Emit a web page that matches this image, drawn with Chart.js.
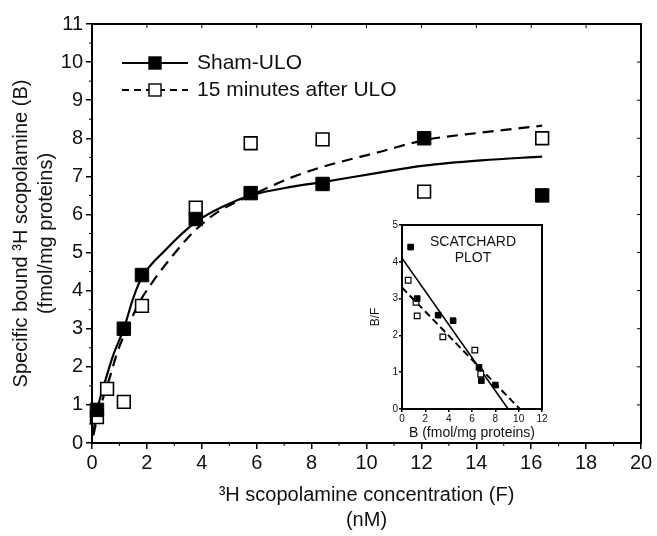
<!DOCTYPE html>
<html>
<head>
<meta charset="utf-8">
<script src="https://cdn.jsdelivr.net/npm/chart.js@4.4.1/dist/chart.umd.min.js"></script>
<style>
    html, body { margin: 0; padding: 0; background: #fff; }
    #wrap { position: relative; width: 657px; height: 536px; }
    #main { position: absolute; left: 0; top: 0; }
    #inset { position: absolute; left: 368px; top: 215px; }
</style>
</head>
<body>
<div id="wrap">
    <canvas id="main" width="657" height="536"></canvas>
    <canvas id="inset" width="185" height="230"></canvas>
</div>
<script>
// ---- saturation curve data ----
const shamConc  = [0.18, 1.16, 1.82, 3.78, 5.78, 8.4, 12.1, 16.4];
const shamBound = [0.87, 3.0, 4.41, 5.88, 6.56, 6.8, 8.0, 6.5];

const uloConc  = [0.18, 0.55, 1.16, 1.82, 3.78, 5.78, 8.4, 12.1, 16.4];
const uloBound = [0.68, 1.42, 1.08, 3.6, 6.18, 7.87, 7.97, 6.6, 8.0];

// fitted curves, traced point by point
const shamFitX = [0.03, 0.2, 0.47, 0.77, 1.16, 1.5, 1.82, 2.65, 3.78, 4.9, 5.78, 7.3, 8.4, 10.47, 12.1, 14.2, 16.4];
const shamFitY = [0.2, 0.9, 1.6, 2.3, 3.0, 3.8, 4.35, 5.05, 5.8, 6.25, 6.5, 6.73, 6.85, 7.1, 7.28, 7.42, 7.52];

const uloFitX = [0.05, 0.2, 0.65, 0.95, 1.31, 1.67, 2.18, 3.02, 3.78, 4.55, 6.1, 7.3, 8.4, 10.47, 12.1, 14.2, 16.4];
const uloFitY = [0.2, 0.68, 1.73, 2.44, 3.04, 3.62, 4.2, 4.99, 5.6, 6.05, 6.6, 6.98, 7.25, 7.64, 7.95, 8.15, 8.33];

const xTicks = [0, 2, 4, 6, 8, 10, 12, 14, 16, 18, 20];
const yTicks = [0, 1, 2, 3, 4, 5, 6, 7, 8, 9, 10, 11];

// ---- Scatchard inset data ----
const scShamB  = [0.74, 1.3, 3.1, 4.38, 6.6, 6.8, 8.0];
const scShamBF = [4.4, 3.0, 2.55, 2.4, 1.13, 0.77, 0.65];

const scUloB  = [0.53, 1.2, 1.3, 3.5, 6.24, 6.75];
const scUloBF = [3.5, 2.9, 2.53, 1.96, 1.6, 0.95];

const scShamLineB  = [0, 9.1];
const scShamLineBF = [4.1, 0];
const scUloLineB  = [0, 10.1];
const scUloLineBF = [3.3, 0];

const FONT = "'Liberation Sans', Arial, sans-serif";
const INK = '#111';

const toXY = (xs, ys) => xs.map((x, i) => ({ x: x, y: ys[i] }));

// box round the plot area + minor / mirror ticks
const framePlugin = {
    id: 'frame',
    afterDraw(chart, args, opts) {
        const { ctx, chartArea: a, scales } = chart;
        ctx.save();
        ctx.strokeStyle = '#000';
        ctx.lineWidth = opts.width || 2;
        ctx.strokeRect(a.left, a.top, a.right - a.left, a.bottom - a.top);
        if (opts.minor) {
            ctx.lineWidth = 1;
            ctx.beginPath();
            for (let v = 0.5; v < scales.y.max; v += 1) {
                const py = scales.y.getPixelForValue(v);
                ctx.moveTo(a.left, py); ctx.lineTo(a.left - 3, py);
            }
            for (let v = 1; v < scales.x.max; v += 2) {
                const px = scales.x.getPixelForValue(v);
                ctx.moveTo(px, a.bottom); ctx.lineTo(px, a.bottom + 3);
            }
            scales.x.ticks.forEach(t => {
                const px = scales.x.getPixelForValue(t.value);
                ctx.moveTo(px, a.top); ctx.lineTo(px, a.top + 4);
            });
            scales.y.ticks.forEach(t => {
                const py = scales.y.getPixelForValue(t.value);
                ctx.moveTo(a.right, py); ctx.lineTo(a.right - 4, py);
            });
            ctx.stroke();
        }
        ctx.restore();
    }
};

// legend with line + marker samples
const legendPlugin = {
    id: 'lineLegend',
    afterDraw(chart) {
        const ctx = chart.ctx;
        const rows = [
            { y: 63, dash: [], fill: '#000', text: 'Sham-ULO' },
            { y: 90, dash: [7, 5], fill: '#fff', text: '15 minutes after ULO' }
        ];
        ctx.save();
        rows.forEach(r => {
            ctx.strokeStyle = '#000';
            ctx.lineWidth = 1.8;
            ctx.setLineDash(r.dash);
            ctx.beginPath();
            ctx.moveTo(122, r.y); ctx.lineTo(188, r.y);
            ctx.stroke();
            ctx.setLineDash([]);
            ctx.fillStyle = r.fill;
            ctx.fillRect(149, r.y - 6, 12, 12);
            ctx.lineWidth = 1.4;
            ctx.strokeRect(149, r.y - 6, 12, 12);
            ctx.fillStyle = INK;
            ctx.font = '21px ' + FONT;
            ctx.textBaseline = 'middle';
            ctx.textAlign = 'left';
            ctx.fillText(r.text, 197, r.y);
        });
        ctx.restore();
    }
};

function axisStyle(size, tickLen) {
    return {
        border: { display: true, color: '#000', width: 2 },
        grid: { display: true, drawOnChartArea: false, drawTicks: true, tickLength: tickLen, color: '#000', lineWidth: 1.5 }
    };
}

new Chart(document.getElementById('main'), {
    type: 'scatter',
    data: {
        datasets: [
            {
                label: 'Sham-ULO',
                data: toXY(shamConc, shamBound),
                pointStyle: 'rect',
                pointRadius: 9.5,
                backgroundColor: '#000',
                borderColor: '#000',
                borderWidth: 1,
                clip: false
            },
            {
                label: '15 minutes after ULO',
                data: toXY(uloConc, uloBound),
                pointStyle: 'rect',
                pointRadius: 9,
                backgroundColor: '#fff',
                borderColor: '#000',
                borderWidth: 1.6,
                clip: false
            },
            {
                label: 'Sham-ULO fit',
                data: toXY(shamFitX, shamFitY),
                showLine: true,
                pointRadius: 0,
                borderColor: '#000',
                borderWidth: 2.2,
                cubicInterpolationMode: 'monotone'
            },
            {
                label: '15 min fit',
                data: toXY(uloFitX, uloFitY),
                showLine: true,
                pointRadius: 0,
                borderColor: '#000',
                borderWidth: 2.2,
                borderDash: [11, 7],
                cubicInterpolationMode: 'monotone'
            }
        ]
    },
    options: {
        responsive: false,
        animation: false,
        layout: { padding: { top: 24, right: 16, bottom: 0, left: 0 } },
        plugins: {
            legend: { display: false },
            tooltip: { enabled: false },
            frame: { width: 2, minor: true }
        },
        scales: {
            x: {
                type: 'linear',
                min: 0,
                max: 20,
                afterBuildTicks: s => { s.ticks = xTicks.map(v => ({ value: v })); },
                ...axisStyle(20, 6),
                ticks: { color: INK, font: { family: FONT, size: 20 }, padding: 2, maxRotation: 0 },
                title: {
                    display: true,
                    text: ['³H scopolamine concentration (F)', '(nM)'],
                    color: INK,
                    font: { family: FONT, size: 20, lineHeight: 1.25 },
                    padding: { top: 0, bottom: 3 }
                },
                afterFit: s => { s.height = 93; }
            },
            y: {
                type: 'linear',
                min: 0,
                max: 11,
                afterBuildTicks: s => { s.ticks = yTicks.map(v => ({ value: v })); },
                ...axisStyle(20, 6),
                ticks: { color: INK, font: { family: FONT, size: 20 }, padding: 3 },
                title: {
                    display: true,
                    text: ['Specific bound ³H scopolamine (B)', '(fmol/mg proteins)'],
                    color: INK,
                    font: { family: FONT, size: 20, lineHeight: 1.25 },
                    padding: { top: 9, bottom: 0 }
                },
                afterFit: s => { s.width = 92; }
            }
        }
    },
    plugins: [framePlugin, legendPlugin]
});

// ---- inset ----
const insetPlugin = {
    id: 'insetDecor',
    beforeDraw(chart) {
        const { ctx, chartArea: a } = chart;
        ctx.save();
        ctx.fillStyle = '#fff';
        ctx.fillRect(a.left, a.top, a.right - a.left, a.bottom - a.top);
        ctx.restore();
    },
    afterDraw(chart) {
        const { ctx, chartArea: a } = chart;
        ctx.save();
        ctx.fillStyle = INK;
        ctx.font = '14px ' + FONT;
        ctx.textAlign = 'center';
        ctx.textBaseline = 'middle';
        const cx = (a.left + a.right) / 2 + 1;
        ctx.fillText('SCATCHARD', cx, a.top + 17);
        ctx.fillText('PLOT', cx, a.top + 33);
        ctx.restore();
    }
};

const scXTicks = [0, 2, 4, 6, 8, 10, 12];
const scYTicks = [0, 1, 2, 3, 4, 5];

new Chart(document.getElementById('inset'), {
    type: 'scatter',
    data: {
        datasets: [
            {
                data: toXY(scShamB, scShamBF),
                pointStyle: 'rect',
                pointRadius: 4,
                backgroundColor: '#000',
                borderColor: '#000',
                borderWidth: 1,
                clip: false
            },
            {
                data: toXY(scUloB, scUloBF),
                pointStyle: 'rect',
                pointRadius: 4,
                backgroundColor: '#fff',
                borderColor: '#000',
                borderWidth: 1.2,
                clip: false
            },
            {
                data: toXY(scShamLineB, scShamLineBF),
                showLine: true,
                pointRadius: 0,
                borderColor: '#000',
                borderWidth: 1.6
            },
            {
                data: toXY(scUloLineB, scUloLineBF),
                showLine: true,
                pointRadius: 0,
                borderColor: '#000',
                borderWidth: 2,
                borderDash: [7, 4]
            }
        ]
    },
    options: {
        responsive: false,
        animation: false,
        layout: { padding: { top: 10, right: 11, bottom: 0, left: 0 } },
        plugins: {
            legend: { display: false },
            tooltip: { enabled: false },
            frame: { width: 2, minor: false }
        },
        scales: {
            x: {
                type: 'linear',
                min: 0,
                max: 12,
                afterBuildTicks: s => { s.ticks = scXTicks.map(v => ({ value: v })); },
                ...axisStyle(10, 3),
                ticks: { color: INK, font: { family: FONT, size: 10 }, padding: 1, maxRotation: 0 },
                title: {
                    display: true,
                    text: 'B (fmol/mg proteins)',
                    color: INK,
                    font: { family: FONT, size: 14, lineHeight: 1.2 },
                    padding: { top: 0, bottom: 3 }
                },
                afterFit: s => { s.height = 36; }
            },
            y: {
                type: 'linear',
                min: 0,
                max: 5,
                afterBuildTicks: s => { s.ticks = scYTicks.map(v => ({ value: v })); },
                ...axisStyle(10, 3),
                ticks: { color: INK, font: { family: FONT, size: 10 }, padding: 1 },
                title: {
                    display: true,
                    text: 'B/F',
                    color: INK,
                    font: { family: FONT, size: 12, lineHeight: 1.2 },
                    padding: { top: 0, bottom: 0 }
                },
                afterFit: s => { s.width = 34; }
            }
        }
    },
    plugins: [insetPlugin, framePlugin]
});
</script>
</body>
</html>
